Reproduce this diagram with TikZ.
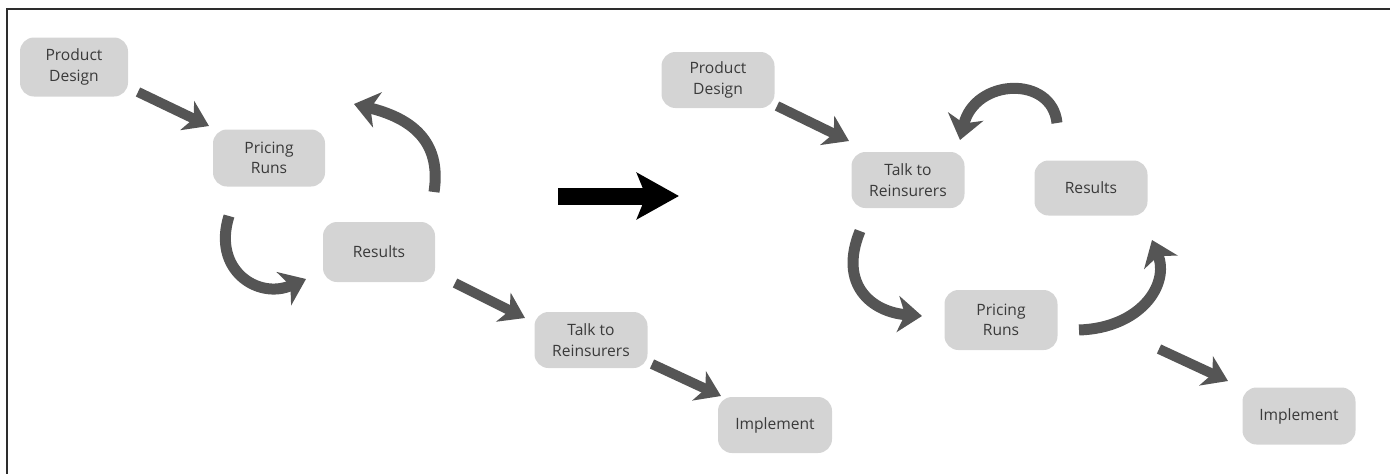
\documentclass[tikz,border=0pt]{standalone}
\usepackage{fontspec}
\setmainfont{Open Sans}
\usetikzlibrary{arrows.meta}
\definecolor{boxgray}{RGB}{212,212,212}
\definecolor{txtgray}{RGB}{58,58,58}
\definecolor{arrgray}{RGB}{85,85,85}
\definecolor{framegray}{RGB}{45,45,45}
\tikzset{
  stage/.style={rectangle, rounded corners=14pt, fill=boxgray, text=txtgray,
    minimum width=112pt, minimum height=57pt, inner sep=0pt, align=center,
    font=\fontsize{15.6}{20.5}\selectfont},
  flow/.style={draw=arrgray, line width=10pt,
    -{Stealth[length=24pt,width=32pt,inset=7pt]}},
  cyc/.style={draw=arrgray, line width=11pt,
    -{Stealth[length=24pt,width=36pt,inset=7pt]}},
  bigarrow/.style={draw=black, line width=17pt,
    -{Stealth[length=42pt,width=46pt,inset=9pt]}}
}
\begin{document}
\begin{tikzpicture}[x=1pt,y=-1pt]
\useasboundingbox (0,0) rectangle (1390,474);
% frame (top and left edges)
\draw[framegray, line width=2pt] (1390,9) -- (7,9) -- (7,474);

% ---------- left diagram ----------
\node[stage, minimum width=108pt, minimum height=59pt] (pdA) at (74,67) {Product\\Design};
\node[stage] (prA) at (269,158) {Pricing\\Runs};
\node[stage, minimum height=60pt] (reA) at (379,252) {Results};
\node[stage, minimum width=113pt, minimum height=56pt] (trA) at (591,340) {Talk to\\Reinsurers};
\node[stage, minimum width=114pt, minimum height=56pt] (imA) at (775,425) {Implement};

\coordinate (a1s) at (138,92);  \coordinate (a1e) at (209,126);
\coordinate (a2s) at (455,283); \coordinate (a2e) at (525,318);
\coordinate (a3s) at (652,364); \coordinate (a3e) at (721,396);
\draw[flow] (a1s) -- (a1e);
\draw[flow] (a2s) -- (a2e);
\draw[flow] (a3s) -- (a3e);

\coordinate (c1s) at (434,192); \coordinate (c1e) at (354,104);
\draw[cyc] (c1s) .. controls (442,140) and (410,118) .. (c1e);
\coordinate (c2s) at (229,216); \coordinate (c2e) at (306,279);
\draw[cyc] (c2s) .. controls (212,270) and (258,300) .. (c2e);

% ---------- big arrow ----------
\coordinate (bs) at (558,196); \coordinate (be) at (679,196);
\draw[bigarrow] (bs) -- (be);

% ---------- right diagram ----------
\node[stage, minimum width=113pt, minimum height=56pt] (pdB) at (718,80) {Product\\Design};
\node[stage, minimum width=113pt, minimum height=56pt] (trB) at (908,180) {Talk to\\Reinsurers};
\node[stage, minimum width=113pt, minimum height=55pt] (reB) at (1091,188) {Results};
\node[stage, minimum width=113pt, minimum height=60pt] (prB) at (1001,320) {Pricing\\Runs};
\node[stage, minimum width=113pt, minimum height=57pt] (imB) at (1299,416) {Implement};

\coordinate (b1s) at (777,106);  \coordinate (b1e) at (849,141);
\coordinate (b2s) at (1159,349); \coordinate (b2e) at (1228,381);
\draw[flow] (b1s) -- (b1e);
\draw[flow] (b2s) -- (b2e);

\coordinate (d1s) at (1057,123); \coordinate (d1e) at (960,140);
\draw[cyc] (d1s) .. controls (1052,75) and (975,78) .. (d1e);
\coordinate (d2s) at (860,231); \coordinate (d2e) at (922,316);
\draw[cyc] (d2s) .. controls (838,285) and (872,312) .. (d2e);
\coordinate (d3s) at (1079,330); \coordinate (d3e) at (1152,240);
\draw[cyc] (d3s) .. controls (1140,328) and (1170,285) .. (d3e);
\end{tikzpicture}
\end{document}
